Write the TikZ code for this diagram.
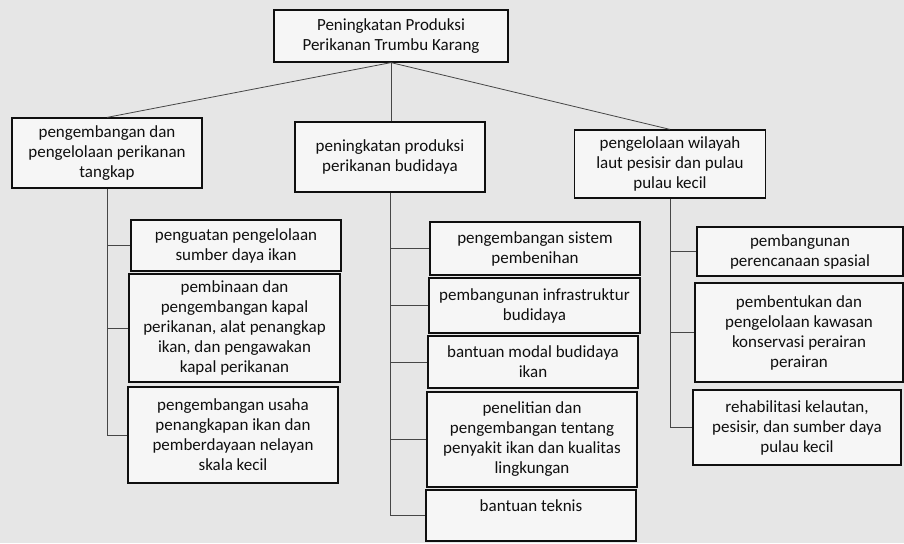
\documentclass[tikz,border=0pt]{standalone}
\usepackage{fontspec}
\setmainfont{Carlito}
\definecolor{bgpaper}{RGB}{230,230,230}
\definecolor{boxfill}{RGB}{246,246,246}
\definecolor{ink}{RGB}{15,15,15}
\definecolor{wire}{RGB}{70,70,70}
\begin{document}
\begin{tikzpicture}[x=1pt,y=-1pt,
  box/.style={draw=ink, fill=boxfill, line width=1.2pt, align=center, inner sep=2pt,
    text=ink, font=\fontsize{17}{20}\selectfont},
  wirel/.style={draw=wire, line width=0.8pt}]
\useasboundingbox (0,0) rectangle (904,543);
\fill[bgpaper] (0,0) rectangle (904,543);
% level 0
\node[box, minimum width=234pt, minimum height=52pt] (T) at (391,36) {Peningkatan Produksi\\Perikanan Trumbu Karang};
% level 1
\node[box, minimum width=190pt, minimum height=70pt] (L1) at (107,153) {pengembangan dan\\pengelolaan perikanan\\tangkap};
\node[box, minimum width=190pt, minimum height=70pt] (M1) at (390,157) {peningkatan produksi\\perikanan budidaya};
\node[box, minimum width=191pt, minimum height=68pt] (R1) at (670,164) {pengelolaan wilayah\\laut pesisir dan pulau\\pulau kecil};
% left children
\node[box, minimum width=210pt, minimum height=51pt] (LC1) at (236,245.5) {penguatan pengelolaan\\sumber daya ikan};
\node[box, minimum width=211pt, minimum height=108pt] (LC2) at (234.5,328) {pembinaan dan\\pengembangan kapal\\perikanan, alat penangkap\\ikan, dan pengawakan\\kapal perikanan};
\node[box, minimum width=210pt, minimum height=96pt] (LC3) at (233,435) {pengembangan usaha\\penangkapan ikan dan\\pemberdayaan nelayan\\skala kecil};
% middle children
\node[box, minimum width=210pt, minimum height=53pt] (MC1) at (535,248.5) {pengembangan sistem\\pembenihan};
\node[box, minimum width=211pt, minimum height=55pt] (MC2) at (534.5,305.5) {pembangunan infrastruktur\\budidaya};
\node[box, minimum width=210pt, minimum height=52pt] (MC3) at (533,362) {bantuan modal budidaya\\ikan};
\node[box, minimum width=210pt, minimum height=95pt] (MC4) at (532,439.5) {penelitian dan\\pengembangan tentang\\penyakit ikan dan kualitas\\lingkungan};
\node[box, minimum width=210pt, minimum height=51pt] (MC5) at (531,515.5) {bantuan teknis\\\mbox{}};
% right children
\node[box, minimum width=206pt, minimum height=49pt] (RC1) at (800,251.5) {pembangunan\\perencanaan spasial};
\node[box, minimum width=208pt, minimum height=99pt] (RC2) at (799,332.5) {pembentukan dan\\pengelolaan kawasan\\konservasi perairan\\perairan};
\node[box, minimum width=208pt, minimum height=75pt] (RC3) at (797,427.5) {rehabilitasi kelautan,\\pesisir, dan sumber daya\\pulau kecil};
% connectors level 0 -> 1
\draw[wirel] (T.south) -- (L1.north);
\draw[wirel] (T.south) -- (T.south |- M1.north);
\draw[wirel] (T.south) -- (R1.north);
% left trunk
\draw[wirel] (L1.south) -- (L1.south |- LC3.west) -- (LC3.west);
\draw[wirel] (L1.south |- LC1.west) -- (LC1.west);
\draw[wirel] (L1.south |- LC2.west) -- (LC2.west);
% middle trunk
\draw[wirel] (M1.south) -- (M1.south |- MC5.west) -- (MC5.west);
\draw[wirel] (M1.south |- MC1.west) -- (MC1.west);
\draw[wirel] (M1.south |- MC2.west) -- (MC2.west);
\draw[wirel] (M1.south |- MC3.west) -- (MC3.west);
\draw[wirel] (M1.south |- MC4.west) -- (MC4.west);
% right trunk
\draw[wirel] (R1.south) -- (R1.south |- RC3.west) -- (RC3.west);
\draw[wirel] (R1.south |- RC1.west) -- (RC1.west);
\draw[wirel] (R1.south |- RC2.west) -- (RC2.west);
\end{tikzpicture}
\end{document}
